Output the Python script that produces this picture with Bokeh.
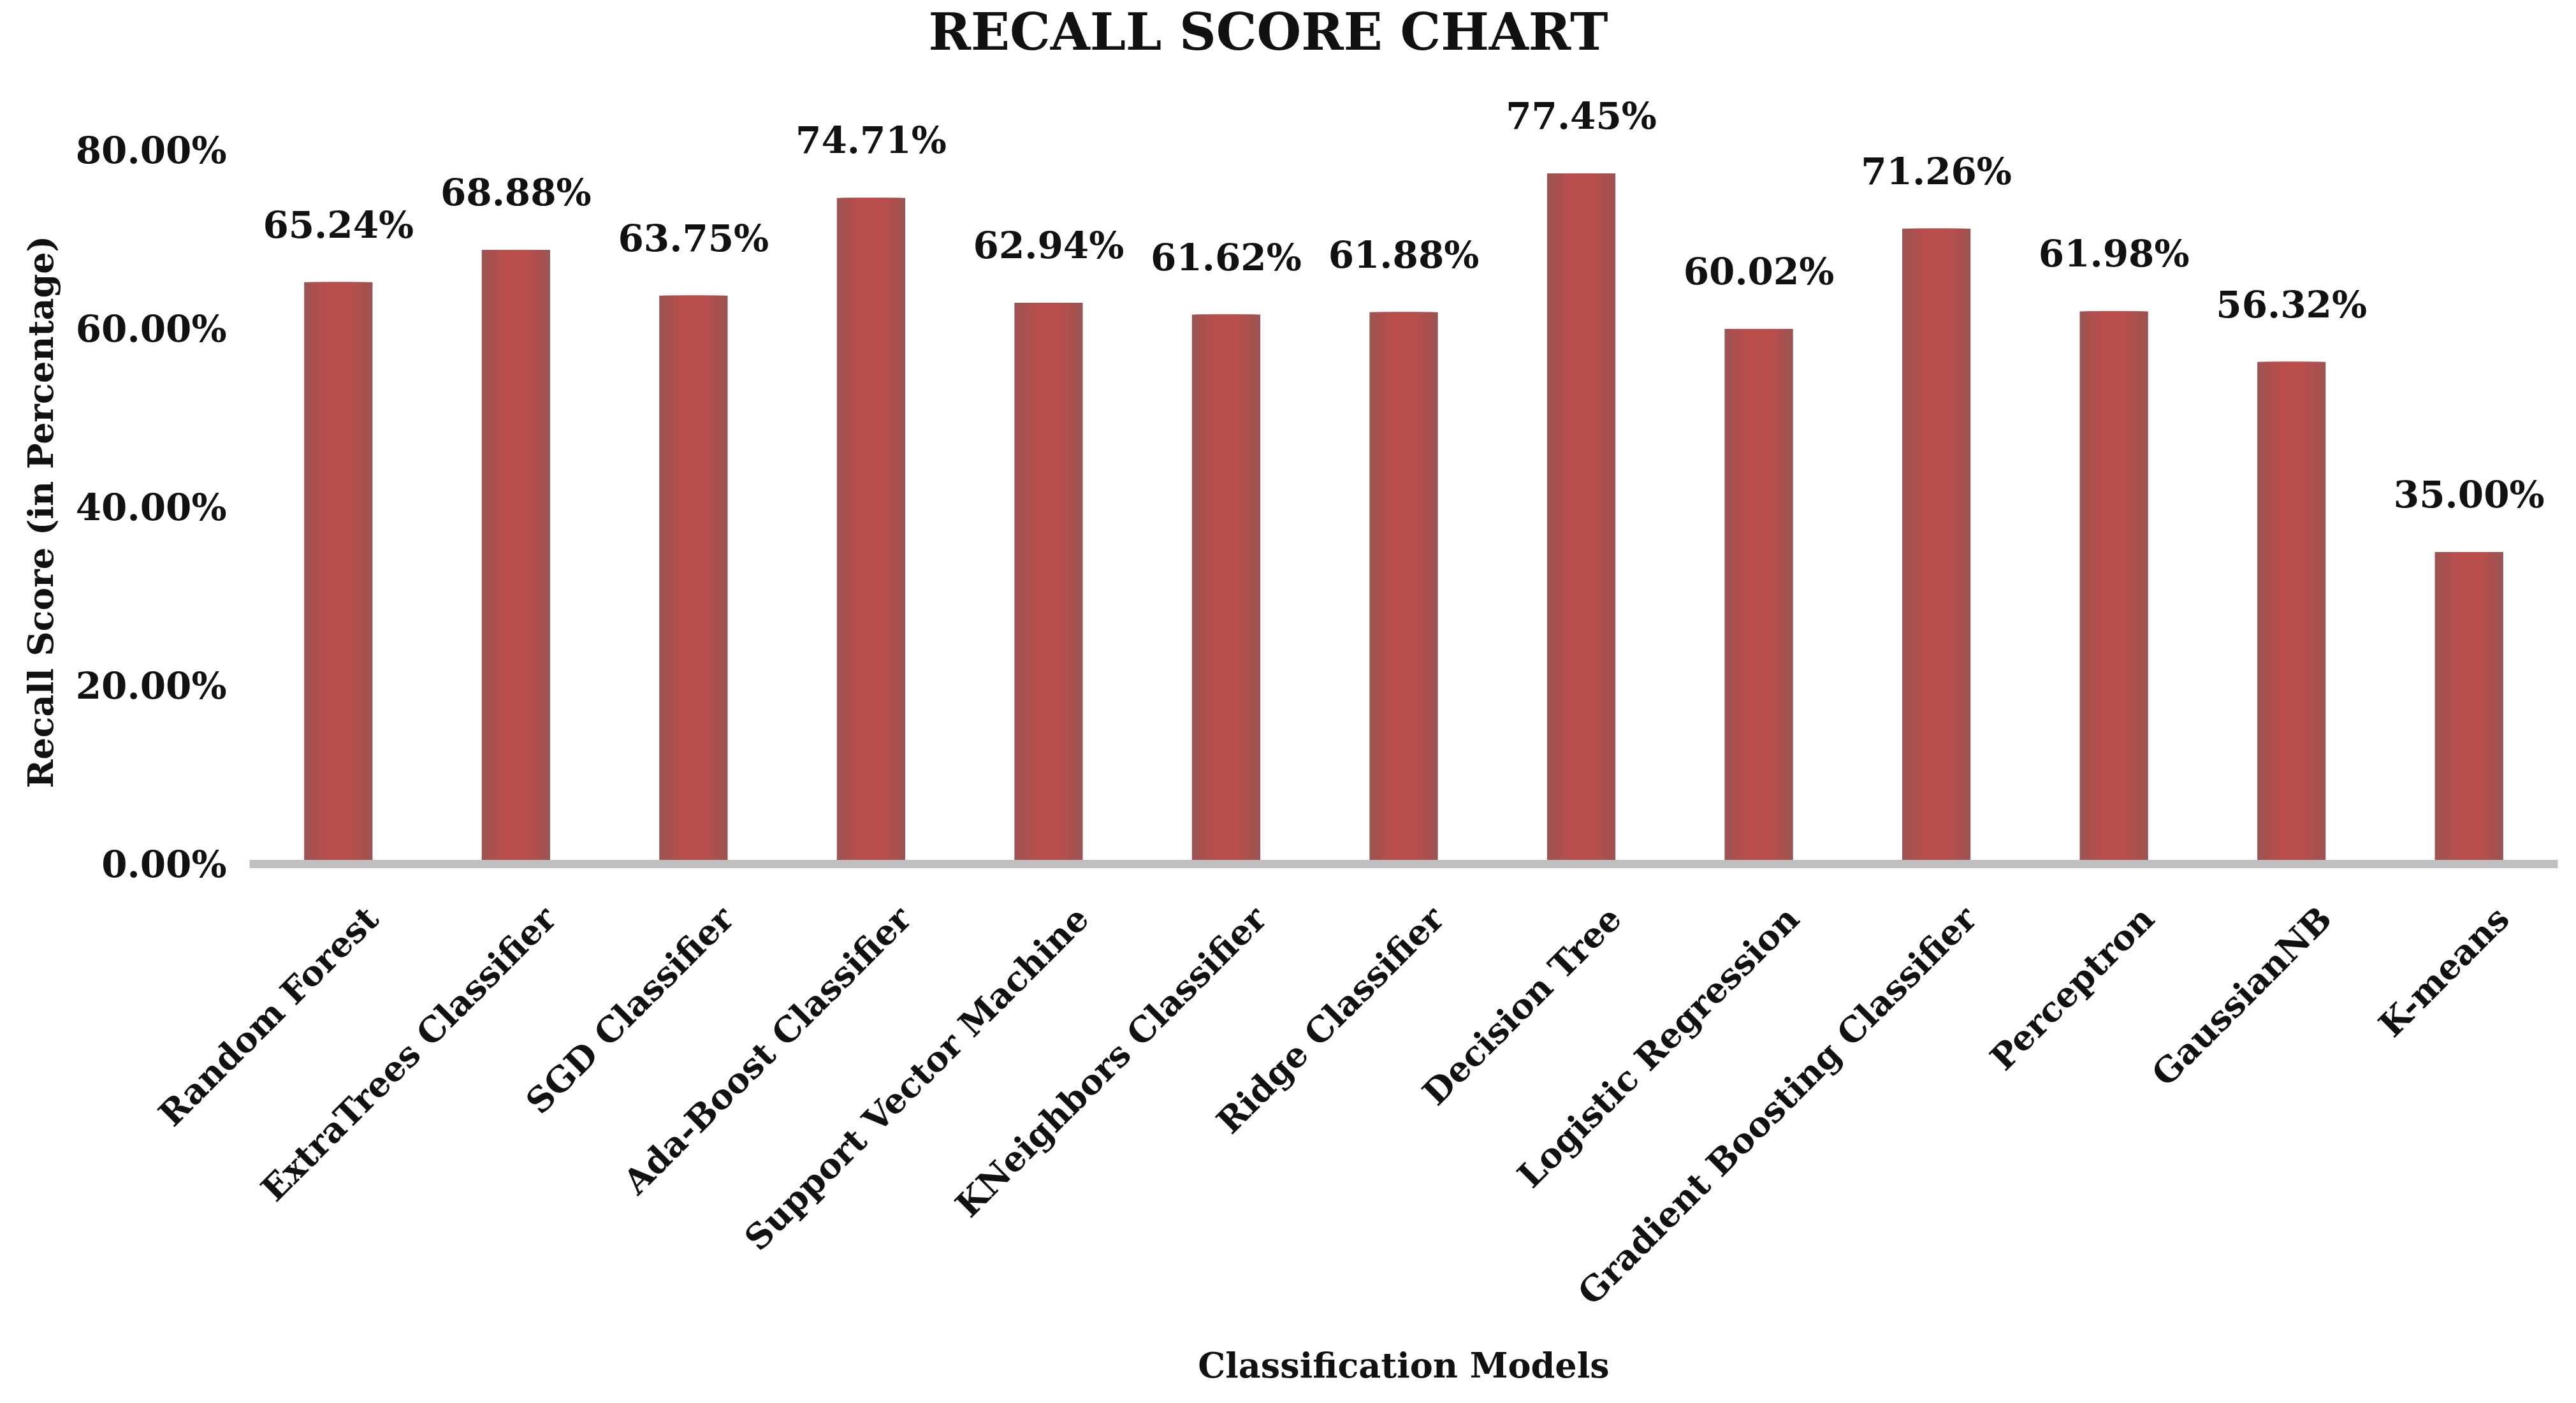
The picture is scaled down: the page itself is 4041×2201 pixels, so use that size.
from bokeh.core.properties import value
from bokeh.embed import file_html
from bokeh.models import ColumnDataSource, FixedTicker, NumeralTickFormatter, Range1d, Title
from bokeh.plotting import figure
from bokeh.resources import INLINE

# chart data
models = ["Random Forest", "ExtraTrees Classifier", "SGD Classifier", "Ada-Boost Classifier",
          "Support Vector Machine", "KNeighbors Classifier", "Ridge Classifier", "Decision Tree",
          "Logistic Regression", "Gradient Boosting Classifier", "Perceptron", "GaussianNB", "K-means"]
recall = [0.6524, 0.6888, 0.6375, 0.7471, 0.6294, 0.6162, 0.6188, 0.7745,
          0.6002, 0.7126, 0.6198, 0.5632, 0.3500]
y_ticks = [0.0, 0.2, 0.4, 0.6, 0.8]

FONT = "DejaVu Serif"
INK = "#111111"

idx = list(range(len(models)))
source = ColumnDataSource(data=dict(
    pos=idx,
    model=models,
    recall=recall,
    label=[f"{v:.2%}" for v in recall],
))

p = figure(
    x_range=Range1d(-0.5, len(models) - 0.5),
    y_range=Range1d(0, 0.9),
    width=4020, height=2185,
    output_backend="svg",
    toolbar_location=None, tools="",
    x_axis_label="Classification Models",
    min_border_left=391, min_border_right=8, min_border_bottom=830,
)

p.add_layout(Title(text="RECALL SCORE CHART", align="left", offset=1065,
                   text_font=FONT, text_font_style="bold", text_font_size="80px",
                   text_color=INK, standoff=0), "above")

# y axis title as a side title so it can sit a bit lower, like the original
p.add_layout(Title(text="Recall Score (in Percentage)", align="left", offset=119,
                   text_font=FONT, text_font_style="bold", text_font_size="54px",
                   text_color=INK, standoff=40), "left")

# bars: layered to mimic the darker edge shading of the original
shades = [(0.385, "#9B5453"), (0.34, "#A3524F"), (0.29, "#AB504E"), (0.22, "#B34F4D"), (0.14, "#B94E4C")]
for w, c in shades:
    p.vbar(x="pos", top="recall", width=w, source=source, fill_color=c, line_color=None)

p.text(x="pos", y="recall", text="label", source=source,
       text_font=value(FONT), text_font_style="bold", text_font_size="58px",
       text_align="center", text_baseline="alphabetic", y_offset=-90, text_color=INK)

p.xgrid.grid_line_color = None
p.ygrid.grid_line_color = None
p.outline_line_color = None

p.yaxis.ticker = FixedTicker(ticks=y_ticks)
p.yaxis.formatter = NumeralTickFormatter(format="0.00%")
p.yaxis.axis_line_color = None
p.yaxis.major_tick_line_color = None
p.yaxis.minor_tick_line_color = None
p.yaxis.major_label_standoff = 30
p.yaxis.major_label_text_font = FONT
p.yaxis.major_label_text_font_style = "bold"
p.yaxis.major_label_text_font_size = "58px"
p.yaxis.major_label_text_color = INK

# category labels end a little right of each bar, as in the original
label_pos = [i + 0.19 for i in idx]
p.xaxis.ticker = FixedTicker(ticks=label_pos)
p.xaxis.major_label_overrides = {t: m for t, m in zip(label_pos, models)}
p.xaxis.axis_line_color = "#BFBFBF"
p.xaxis.axis_line_width = 13
p.xaxis.major_tick_line_color = None
p.xaxis.minor_tick_line_color = None
p.xaxis.major_label_orientation = 0.785398
p.xaxis.major_label_standoff = 70
p.xaxis.axis_label_standoff = 25
p.xaxis.major_label_text_font = FONT
p.xaxis.major_label_text_font_style = "bold"
p.xaxis.major_label_text_font_size = "54px"
p.xaxis.major_label_text_color = INK
p.xaxis.axis_label_text_font = FONT
p.xaxis.axis_label_text_font_style = "bold"
p.xaxis.axis_label_text_font_size = "54px"
p.xaxis.axis_label_text_color = INK

open("out.html", "w").write(file_html(p, INLINE))
